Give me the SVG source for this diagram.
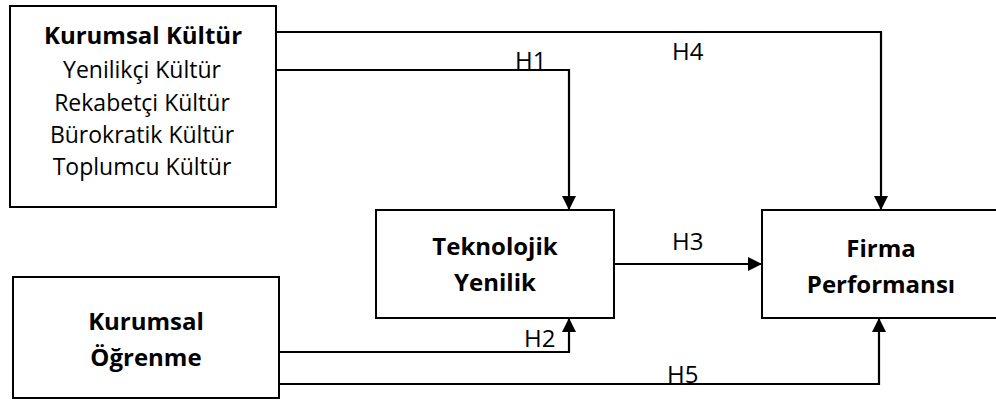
<svg xmlns="http://www.w3.org/2000/svg" width="996" height="403" viewBox="0 0 996 403">
<defs>
<style>
.box{fill:#fff;stroke:#000;stroke-width:2}
.t{font-family:"Open Sans","Noto Sans","Liberation Sans",sans-serif;font-size:23px;fill:#000;text-anchor:middle}
.b{font-weight:bold;font-size:24px}
.lbl{font-family:"Open Sans","Noto Sans","Liberation Sans",sans-serif;font-size:24px;fill:#000}
.ln{fill:none;stroke:#000;stroke-width:2.2}
</style>
<marker id="ah" markerWidth="14" markerHeight="14" refX="14" refY="7" orient="auto" markerUnits="userSpaceOnUse">
<path d="M0,0 L14,7 L0,14 Z" fill="#000"/>
</marker>
</defs>
<rect width="996" height="403" fill="#fff"/>
<g id="kurumsal-kultur">
<rect class="box" x="10" y="6" width="266" height="201"/>
<text class="t b" x="143" y="44">Kurumsal Kültür</text>
<text class="t" x="142" y="78">Yenilikçi Kültür</text>
<text class="t" x="142" y="111">Rekabetçi Kültür</text>
<text class="t" x="142" y="143">Bürokratik Kültür</text>
<text class="t" x="142" y="175">Toplumcu Kültür</text>
</g>
<g id="kurumsal-ogrenme">
<rect class="box" x="13" y="277" width="266" height="121"/>
<text class="t b" x="146" y="330">Kurumsal</text>
<text class="t b" x="146" y="366">Öğrenme</text>
</g>
<g id="teknolojik-yenilik">
<rect class="box" x="376" y="210" width="238" height="108"/>
<text class="t b" x="495" y="255">Teknolojik</text>
<text class="t b" x="495" y="291">Yenilik</text>
</g>
<g id="firma-performansi">
<rect class="box" x="762" y="210" width="238" height="108"/>
<text class="t b" x="881" y="257">Firma</text>
<text class="t b" x="881" y="293">Performansı</text>
</g>
<g id="connectors">
<polyline class="ln" points="276,32 881,32 881,210" marker-end="url(#ah)"/>
<polyline class="ln" points="276,70 569,70 569,210" marker-end="url(#ah)"/>
<polyline class="ln" points="614,264 762,264" marker-end="url(#ah)"/>
<polyline class="ln" points="279,352 569,352 569,318" marker-end="url(#ah)"/>
<polyline class="ln" points="279,384 879,384 879,318" marker-end="url(#ah)"/>
<text class="lbl" x="515" y="69">H1</text>
<text class="lbl" x="524" y="347">H2</text>
<text class="lbl" x="672" y="250">H3</text>
<text class="lbl" x="672" y="60">H4</text>
<text class="lbl" x="667" y="383">H5</text>
</g>
</svg>
